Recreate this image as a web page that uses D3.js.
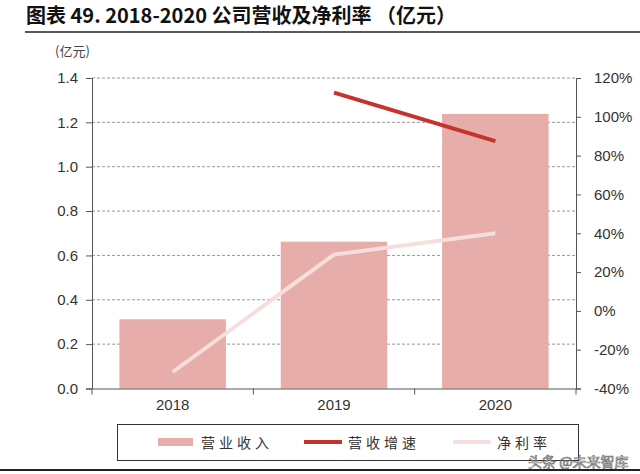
<!DOCTYPE html>
<html>
<head>
<meta charset="utf-8">
<script src="https://cdn.jsdelivr.net/npm/d3@7"></script>
<style>
body { margin: 0; background: #fff; }
svg { display: block; font-family: "Liberation Sans", Arial, sans-serif; }
</style>
</head>
<body>
<svg width="640" height="474"></svg>
<script>
// data
var years = ["2018", "2019", "2020"];
var revenue = [0.312, 0.662, 1.238];          // 营业收入 (亿元)
var growth = [null, 112.5, 87.5];             // 营收增速 (%)
var netMargin = [-31.5, 29, 40];              // 净利率 (%)
var leftTicks = [0, 0.2, 0.4, 0.6, 0.8, 1.0, 1.2, 1.4];
var rightTicks = [-40, -20, 0, 20, 40, 60, 80, 100, 120];

var width = 640, height = 474;
var svg = d3.select("svg");

var x0 = 92, x1 = 576, yTop = 78, yBot = 388.5;

// scales
var xScale = d3.scaleBand().domain(years).range([x0, x1]).paddingInner(0.34).paddingOuter(0.17);
var xPoint = d3.scaleBand().domain(years).range([x0, x1]);
var yLeft = d3.scaleLinear().domain([0, 1.4]).range([yBot, yTop]);
var yRight = d3.scaleLinear().domain([-40, 120]).range([yBot, yTop]);

// title
svg.append("text").attr("x", 26).attr("y", 23)
    .style("font-family", "'Noto Sans CJK SC', sans-serif").style("font-weight", "bold")
    .style("font-size", "20px").attr("fill", "#111")
    .text("图表 49. 2018-2020 公司营收及净利率 （亿元）");
svg.append("line").attr("x1", 25).attr("x2", 640).attr("y1", 32).attr("y2", 32)
    .attr("stroke", "#222").attr("stroke-width", 1.5);

// unit label
svg.append("text").attr("x", 55).attr("y", 56)
    .style("font-family", "'Noto Sans CJK SC', sans-serif").style("font-size", "13px")
    .attr("fill", "#444").text("(亿元)");

// grid lines
svg.append("g").selectAll("line").data(leftTicks.slice(1)).enter().append("line")
    .attr("x1", x0).attr("x2", x1)
    .attr("y1", d => yLeft(d)).attr("y2", d => yLeft(d))
    .attr("stroke", "#999").attr("stroke-dasharray", "3,2").attr("stroke-width", 1);

// bars
svg.append("g").selectAll("rect").data(revenue).enter().append("rect")
    .attr("x", (d, i) => xScale(years[i]))
    .attr("width", xScale.bandwidth())
    .attr("y", d => yLeft(d))
    .attr("height", d => yLeft(0) - yLeft(d))
    .attr("fill", "#E6ADAA");

// lines
var lineGen = d3.line()
    .defined(d => d.v !== null)
    .x(d => xPoint(d.year) + xPoint.bandwidth() / 2)
    .y(d => yRight(d.v));

svg.append("path")
    .datum(years.map((y, i) => ({year: y, v: netMargin[i]})))
    .attr("d", lineGen).attr("fill", "none")
    .attr("stroke", "#F6DEDC").attr("stroke-width", 4);

svg.append("path")
    .datum(years.map((y, i) => ({year: y, v: growth[i]})))
    .attr("d", lineGen).attr("fill", "none")
    .attr("stroke", "#C4342D").attr("stroke-width", 4);

// axes
var leftAxis = d3.axisLeft(yLeft).tickValues(leftTicks).tickFormat(d3.format(".1f")).tickSizeOuter(0).tickSize(6).tickPadding(8);
var rightAxis = d3.axisRight(yRight).tickValues(rightTicks).tickFormat(d => d + "%").tickSizeOuter(0).tickSize(5).tickPadding(13);
var bottomAxis = d3.axisBottom(xPoint).tickValues([]).tickSizeOuter(0);

var gl = svg.append("g").attr("transform", "translate(" + x0 + ",0)").call(leftAxis);
var gr = svg.append("g").attr("transform", "translate(" + x1 + ",0)").call(rightAxis);
var gb = svg.append("g").attr("transform", "translate(0," + yBot + ")").call(bottomAxis);

[gl, gr, gb].forEach(function(g) {
    g.select(".domain").attr("stroke", "#555");
    g.selectAll(".tick line").attr("stroke", "#555");
    g.selectAll(".tick text").attr("fill", "#333").style("font-size", "15px")
        .style("font-family", "'Liberation Sans', Arial, sans-serif");
});

// x category boundaries and labels
var bounds = years.map(y => xPoint(y)).concat([x1]);
svg.append("g").selectAll("line").data(bounds).enter().append("line")
    .attr("x1", d => d).attr("x2", d => d).attr("y1", yBot).attr("y2", yBot + 6)
    .attr("stroke", "#555");
svg.append("g").selectAll("text").data(years).enter().append("text")
    .attr("x", d => xPoint(d) + xPoint.bandwidth() / 2).attr("y", 410)
    .attr("text-anchor", "middle").attr("fill", "#333")
    .style("font-size", "15px").text(d => d);

// legend
svg.append("rect").attr("x", 117.5).attr("y", 424.5).attr("width", 461).attr("height", 36)
    .attr("fill", "none").attr("stroke", "#333").attr("stroke-width", 1);

var legendItems = [
    {name: "营业收入", type: "bar", color: "#E6ADAA", x: 158},
    {name: "营收增速", type: "line", color: "#C4342D", x: 304},
    {name: "净利率", type: "line", color: "#F6DEDC", x: 453}
];
var lg = svg.append("g").selectAll("g").data(legendItems).enter().append("g");
lg.each(function(d) {
    var g = d3.select(this);
    if (d.type === "bar") {
        g.append("rect").attr("x", d.x).attr("y", 438).attr("width", 35).attr("height", 8).attr("fill", d.color);
    } else {
        g.append("line").attr("x1", d.x).attr("x2", d.x + 38).attr("y1", 442).attr("y2", 442)
            .attr("stroke", d.color).attr("stroke-width", 4);
    }
    g.append("text").attr("x", d.x + (d.type === "bar" ? 43 : 44)).attr("y", 448)
        .style("font-family", "'Noto Sans CJK SC', sans-serif").style("font-size", "14px")
        .style("letter-spacing", "4px").attr("fill", "#333").text(d.name);
});

// bottom rule
svg.append("line").attr("x1", 0).attr("x2", 640).attr("y1", 470).attr("y2", 470)
    .attr("stroke", "#222").attr("stroke-width", 2);

// watermark
svg.append("text").attr("x", 528).attr("y", 467)
    .style("font-family", "'Noto Sans CJK SC', sans-serif").style("font-size", "14px")
    .attr("fill", "#fff").attr("stroke", "#555").attr("stroke-width", 0.7)
    .attr("opacity", 0.85).text("头条 @未来智库");
</script>
</body>
</html>
